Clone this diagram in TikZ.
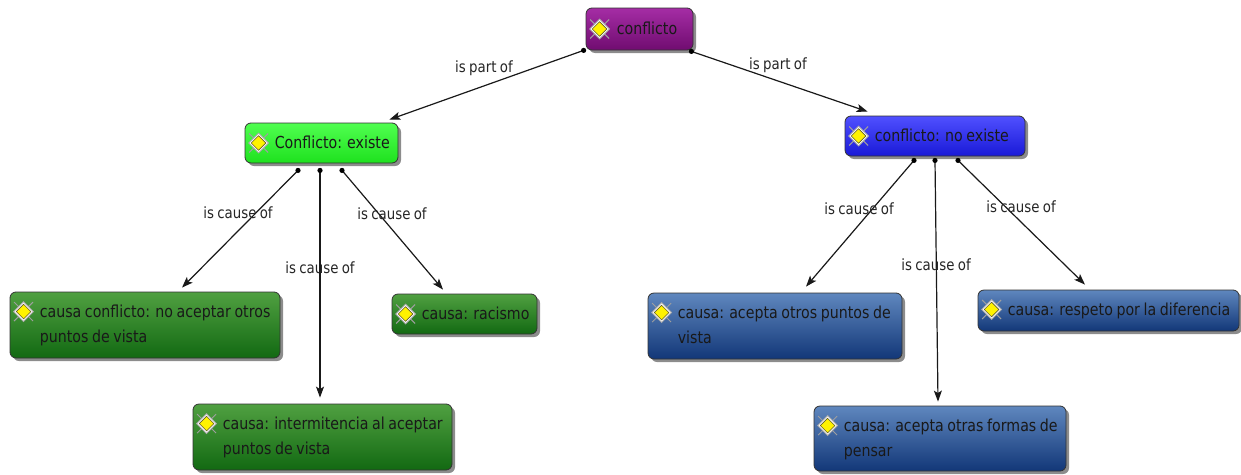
\documentclass[tikz,border=0pt]{standalone}
\usepackage{fontspec}
\setmainfont{DejaVu Sans}[FakeStretch=0.86,WordSpace=0.8]
\usetikzlibrary{calc,shadows,arrows.meta}
\definecolor{purT}{RGB}{165,45,165}
\definecolor{purB}{RGB}{112,12,112}
\definecolor{lgT}{RGB}{80,255,80}
\definecolor{lgB}{RGB}{30,225,30}
\definecolor{lbT}{RGB}{80,80,255}
\definecolor{lbB}{RGB}{25,25,215}
\definecolor{dgT}{RGB}{80,160,65}
\definecolor{dgB}{RGB}{18,105,18}
\definecolor{dbT}{RGB}{95,135,190}
\definecolor{dbB}{RGB}{18,55,120}
\begin{document}
\begin{tikzpicture}[x=1pt,y=-1pt,
  box/.style={rounded corners=6pt, draw=black!80, line width=0.8pt, inner sep=0pt,
    drop shadow={shadow xshift=3pt, shadow yshift=-3pt, opacity=0.45, fill=black}},
  purbox/.style={box, top color=purT, bottom color=purB},
  lgbox/.style={box, top color=lgT, bottom color=lgB},
  lbbox/.style={box, top color=lbT, bottom color=lbB},
  dgbox/.style={box, top color=dgT, bottom color=dgB},
  dbbox/.style={box, top color=dbT, bottom color=dbB},
  txt/.style={anchor=mid west, inner sep=0pt, text=black!90, font=\fontsize{16.5}{20}\selectfont},
  lbl/.style={inner sep=0pt, text=black!85, font=\fontsize{15.5}{18}\selectfont},
  conn/.style={line width=1.2pt, black!90, -{Stealth[length=11pt,width=8pt,inset=2.5pt]}},
  dot/.style={fill=black},
  gem/.pic={
    \draw[gray!75, line width=1pt] (-9.5,-9.5) -- (9.5,9.5) (-9.5,9.5) -- (9.5,-9.5);
    \fill[gray!65] (0,-10.5) -- (10.5,0) -- (0,10.5) -- (-10.5,0) -- cycle;
    \fill[white] (0,-9) -- (9,0) -- (0,9) -- (-9,0) -- cycle;
    \draw[fill=yellow, draw=olive!60!black, line width=0.6pt] (0,-7.3) -- (7.3,0) -- (0,7.3) -- (-7.3,0) -- cycle;
  }]
\useasboundingbox[fill=white] (0,0) rectangle (1241,474);

% nodes
\node[purbox, minimum width=107pt, minimum height=42pt] (root) at (639.5,29) {};
\pic at ($(root.west)+(14,0)$) {gem};
\node[txt] (root-t) at ($(root.west)+(31,3)$) {conflicto};

\node[lgbox, minimum width=153pt, minimum height=40pt] (ex) at (321.5,143) {};
\pic at ($(ex.west)+(14,0)$) {gem};
\node[txt] (ex-t) at ($(ex.west)+(30,3)$) {Conflicto: existe};

\node[lbbox, minimum width=180pt, minimum height=40pt] (nex) at (935,136) {};
\pic at ($(nex.west)+(14,0)$) {gem};
\node[txt] (nex-t) at ($(nex.west)+(30,3)$) {conflicto: no existe};

\node[dgbox, minimum width=270pt, minimum height=66pt] (c1) at (145,325) {};
\pic at ($(c1.north west)+(14,20)$) {gem};
\node[txt] (c1-a) at ($(c1.north west)+(30,23.5)$) {causa conflicto: no aceptar otros};
\node[txt] (c1-b) at ($(c1.north west)+(30,48.5)$) {puntos de vista};

\node[dgbox, minimum width=259pt, minimum height=66pt] (c2) at (322.5,437) {};
\pic at ($(c2.north west)+(14,20)$) {gem};
\node[txt] (c2-a) at ($(c2.north west)+(30,23.5)$) {causa: intermitencia al aceptar};
\node[txt] (c2-b) at ($(c2.north west)+(30,48.5)$) {puntos de vista};

\node[dgbox, minimum width=145pt, minimum height=40pt] (c3) at (464.5,314) {};
\pic at ($(c3.west)+(14,0)$) {gem};
\node[txt] (c3-t) at ($(c3.west)+(30,3)$) {causa: racismo};

\node[dbbox, minimum width=254pt, minimum height=66pt] (c4) at (775,326) {};
\pic at ($(c4.north west)+(14,20)$) {gem};
\node[txt] (c4-a) at ($(c4.north west)+(30,23.5)$) {causa: acepta otros puntos de};
\node[txt] (c4-b) at ($(c4.north west)+(30,48.5)$) {vista};

\node[dbbox, minimum width=252pt, minimum height=65pt] (c5) at (940,438.5) {};
\pic at ($(c5.north west)+(14,20)$) {gem};
\node[txt] (c5-a) at ($(c5.north west)+(30,23.5)$) {causa: acepta otras formas de};
\node[txt] (c5-b) at ($(c5.north west)+(30,48.5)$) {pensar};

\node[dbbox, minimum width=261pt, minimum height=41pt] (c6) at (1108.5,310.5) {};
\pic at ($(c6.west)+(14,-1)$) {gem};
\node[txt] (c6-t) at ($(c6.west)+(30,2)$) {causa: respeto por la diferencia};

% connector anchor points
\coordinate (s1) at ($(root.south west)+(-2,0)$);
\coordinate (s2) at ($(root.south east)+(-2,1)$);
\coordinate (s3) at ($(ex.south)+(-23.5,7)$);
\coordinate (s4) at ($(ex.south)+(-1.5,7)$);
\coordinate (s5) at ($(ex.south)+(20.5,7)$);
\coordinate (s6) at ($(nex.south)+(-21,4)$);
\coordinate (s7) at ($(nex.south)+(0,4)$);
\coordinate (s8) at ($(nex.south)+(23,4)$);

\draw[conn] (s1) -- ($(ex.north east)+(-9,-3)$);
\draw[conn] (s2) -- ($(nex.north west)+(23,-4)$);
\draw[conn] (s3) -- ($(c1.north)+(37,-4)$);
\draw[conn] (s4) -- ($(c2.north)+(-2.5,-6)$);
\draw[conn] (s5) -- ($(c3.north)+(-21.5,-4)$);
\draw[conn] (s6) -- ($(c4.north)+(31,-6)$);
\draw[conn] (s7) -- ($(c5.north)+(-2,-4)$);
\draw[conn] (s8) -- ($(c6.north)+(-23.5,-5)$);
\foreach \s in {s1,s2,s3,s4,s5,s6,s7,s8} \fill[dot] (\s) circle (2.6);

% labels
\node[lbl] (l1) at (484,68) {is part of};
\node[lbl] (l2) at (778,65) {is part of};
\node[lbl] (l3) at (238,213) {is cause of};
\node[lbl] (l4) at (320,268) {is cause of};
\node[lbl] (l5) at (392,214) {is cause of};
\node[lbl] (l6) at (859,209) {is cause of};
\node[lbl] (l7) at (936,265) {is cause of};
\node[lbl] (l8) at (1021,207) {is cause of};
\end{tikzpicture}
\end{document}
